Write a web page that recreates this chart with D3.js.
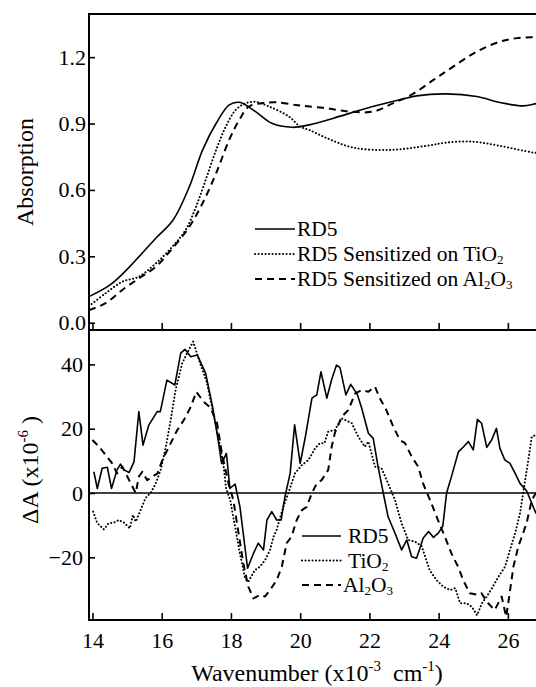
<!DOCTYPE html>
<html>
<head>
<meta charset="utf-8">
<script src="https://cdn.jsdelivr.net/npm/d3@7"></script>
<style>
  html, body { margin: 0; padding: 0; background: #fff; }
  svg { display: block; }
</style>
</head>
<body>
<svg id="chart" width="536" height="687"></svg>
<script>
// ---------------- DATA ----------------
const xTicks = [14, 16, 18, 20, 22, 24, 26];
const absTicks = [0.0, 0.3, 0.6, 0.9, 1.2];
const dATicks = [-20, 0, 20, 40];

// Top panel: absorption spectra [wavenumber x10^-3 cm^-1, absorption]
const absRD5 = [[13.9,0.118],[14.5,0.17],[14.9,0.225],[15.85,0.385],[16.33,0.464],[16.8,0.615],[17.18,0.78],[17.57,0.90],[17.95,0.984],[18.24,0.996],[18.71,0.954],[19.2,0.90],[19.77,0.883],[20.0,0.886],[20.26,0.894],[20.96,0.924],[21.92,0.969],[22.87,1.007],[23.36,1.025],[24.23,1.034],[25.1,1.022],[25.77,0.995],[26.44,0.98],[26.81,0.99],[27.0,0.995]];
const absTiO2 = [[13.9,0.075],[14.38,0.133],[14.86,0.185],[15.34,0.208],[15.83,0.268],[16.31,0.344],[16.69,0.419],[16.99,0.524],[17.27,0.645],[17.57,0.78],[17.85,0.886],[18.14,0.962],[18.43,0.992],[18.71,0.998],[19.1,0.977],[19.68,0.931],[20.0,0.886],[20.26,0.871],[20.77,0.834],[21.54,0.791],[22.59,0.781],[23.65,0.799],[24.23,0.814],[25.0,0.818],[25.77,0.799],[26.73,0.769],[27.0,0.765]];
const absAl2O3 = [[13.9,0.057],[14.38,0.088],[14.86,0.148],[15.34,0.20],[15.83,0.253],[16.31,0.336],[16.8,0.434],[17.18,0.54],[17.57,0.675],[17.95,0.826],[18.24,0.916],[18.52,0.977],[18.9,0.992],[19.3,0.996],[19.87,0.984],[20.2,0.978],[20.77,0.969],[21.44,0.954],[22.11,0.954],[22.69,0.992],[23.26,1.034],[23.85,1.097],[24.42,1.157],[25.1,1.225],[25.77,1.27],[26.26,1.286],[26.73,1.29],[27.0,1.29]];

// Bottom panel: electroabsorption ΔA (x10^-6)
const dARD5 = [[14.04,6.6],[14.14,1.4],[14.28,7.7],[14.43,8.0],[14.55,1.4],[14.71,7.2],[14.81,9.0],[14.91,7.2],[15.06,6.4],[15.2,9.7],[15.34,25.3],[15.46,14.9],[15.63,21.2],[15.87,25.3],[15.96,25.3],[16.15,35.1],[16.38,33.6],[16.55,43.5],[16.67,44.7],[16.84,42.4],[17.03,42.9],[17.27,37.2],[17.47,26.8],[17.63,16.5],[17.73,9.2],[17.87,12.3],[17.97,1.4],[18.12,2.8],[18.26,-4.3],[18.48,-23.4],[18.65,-18.8],[18.79,-15.6],[18.94,-17.7],[19.04,-8.4],[19.18,-5.8],[19.32,-8.4],[19.45,-8.4],[19.56,-1.2],[19.71,6.1],[19.84,21.2],[20.0,9.2],[20.15,17.5],[20.34,29.5],[20.48,30.5],[20.6,37.7],[20.77,29.5],[20.91,35.3],[21.05,39.8],[21.15,39.0],[21.32,30.5],[21.46,33.8],[21.65,30.7],[21.78,26.3],[21.97,18.6],[22.11,17.0],[22.25,8.2],[22.4,0],[22.54,-7.4],[22.74,-12.5],[22.93,-17.7],[23.08,-14.6],[23.22,-19.8],[23.36,-20.3],[23.46,-17.2],[23.55,-14.1],[23.71,-12],[23.85,-13.8],[23.99,-12.5],[24.12,-10.3],[24.23,0],[24.37,5.1],[24.57,12.8],[24.72,14.4],[24.86,16],[25.0,13.4],[25.12,22.9],[25.24,21.7],[25.39,14.2],[25.53,16.5],[25.67,20.1],[25.77,13.9],[25.91,10.3],[26.06,9.2],[26.21,6.1],[26.35,3.0],[26.54,0.7],[26.69,-3.2],[26.81,-6.3],[27.0,-8]];
const dATiO2 = [[14.02,-5.8],[14.14,-9.4],[14.33,-11.3],[14.47,-9.4],[14.62,-9.2],[14.76,-8.4],[14.91,-9.2],[15.08,-11],[15.17,-6.8],[15.25,-8.9],[15.39,-5.3],[15.53,-1.6],[15.68,0],[15.83,3],[15.97,7.2],[16.12,14.4],[16.26,22.7],[16.4,32],[16.59,40.3],[16.78,44.5],[16.91,47.1],[17.11,40.3],[17.3,34.6],[17.49,24.8],[17.69,14.4],[17.79,8.2],[17.86,1.5],[17.98,-2.2],[18.12,-10.5],[18.26,-18.8],[18.41,-26.6],[18.5,-27.6],[18.69,-24],[18.84,-22.9],[18.99,-20.8],[19.13,-17.7],[19.23,-13.6],[19.32,-11.5],[19.51,-4.3],[19.66,0],[19.85,6.1],[20.05,8.7],[20.24,10.3],[20.43,13.9],[20.57,15.5],[20.7,15.5],[20.81,19.1],[21.0,19.6],[21.2,23.2],[21.49,21.7],[21.68,17.5],[21.87,14.4],[21.97,16],[22.16,8.2],[22.35,7.7],[22.54,3],[22.74,-2.2],[22.93,-9.4],[23.12,-14.6],[23.31,-15.1],[23.51,-16.5],[23.74,-24],[23.94,-27.1],[24.13,-29.1],[24.33,-30.2],[24.48,-29.6],[24.62,-34.3],[24.81,-34.3],[24.96,-35.4],[25.11,-38],[25.25,-34.3],[25.39,-32.2],[25.54,-29.6],[25.73,-26],[25.92,-22.9],[26.06,-17.7],[26.21,-12.5],[26.35,-6.3],[26.44,0],[26.59,10.3],[26.69,17.5],[26.81,18],[27.0,18]];
const dAAl2O3 = [[14.0,16.5],[14.19,14.4],[14.38,11.8],[14.57,9.2],[14.71,6.1],[14.86,8.2],[15.06,4],[15.25,0],[15.34,5.1],[15.44,6.6],[15.58,4],[15.73,5.1],[15.88,6.1],[16.02,10.3],[16.21,14.4],[16.45,19.6],[16.64,22.7],[16.84,26.8],[17.0,31.5],[17.21,28.4],[17.41,26.5],[17.6,21.7],[17.74,12.3],[17.93,3],[18.07,-2.2],[18.22,-12.5],[18.36,-22],[18.5,-29.1],[18.65,-32.8],[18.84,-31.7],[18.98,-32.2],[19.13,-30.2],[19.32,-27.1],[19.47,-22.9],[19.61,-15.6],[19.75,-13.6],[19.9,-8.4],[20.05,-5.3],[20.19,-4.3],[20.34,0],[20.48,3],[20.62,4],[20.81,7.2],[20.91,14.4],[21.0,18.6],[21.2,23.7],[21.39,25.8],[21.59,31],[21.78,32],[21.97,31.5],[22.16,33.1],[22.3,29.5],[22.49,25.8],[22.69,20.6],[22.88,16.5],[23.03,15.5],[23.22,11.3],[23.41,8.2],[23.55,3],[23.79,-3.2],[23.98,-8.4],[24.18,-13.6],[24.37,-18.8],[24.56,-22.9],[24.71,-27.1],[24.9,-31.2],[25.15,-31.7],[25.24,-31.2],[25.39,-33.8],[25.53,-35.4],[25.62,-36.4],[25.82,-32.2],[25.95,-38.5],[26.01,-34.3],[26.16,-22.9],[26.3,-16.7],[26.54,-9.4],[26.69,-2.2],[26.81,0],[27.0,3]];

const topLegend = ["RD5", "RD5 Sensitized on TiO|2", "RD5 Sensitized on Al|2|O|3"];
const botLegend = ["RD5", "TiO|2", "Al|2|O|3"];

// ---------------- LAYOUT ----------------
const FONT = "Liberation Serif";
const svg = d3.select("#chart").attr("font-family", FONT);
const L = 89, R = 542.5;
const topT = 14, topB = 330, botT = 330, botB = 620;

const x = d3.scaleLinear().domain([13.9, 27]).range([L, R]);
const yTop = d3.scaleLinear().domain([-0.033, 1.395]).range([topB, topT]);
const yBot = d3.scaleLinear().domain([-39.5, 50.7]).range([botB, botT]);

const styles = [
  { dash: null, width: 1.6, cap: "butt" },
  { dash: "0.1,3.4", width: 2.0, cap: "round" },
  { dash: "7,5", width: 2.0, cap: "butt" }
];

const defs = svg.append("defs");
defs.append("clipPath").attr("id", "clipTop").append("rect")
  .attr("x", L).attr("y", topT).attr("width", R - L).attr("height", topB - topT);
defs.append("clipPath").attr("id", "clipBot").append("rect")
  .attr("x", L).attr("y", botT).attr("width", R - L).attr("height", botB - botT);

function applyStyle(sel, i) {
  sel.attr("fill", "none").attr("stroke", "#000")
    .attr("stroke-width", styles[i].width)
    .attr("stroke-dasharray", styles[i].dash)
    .attr("stroke-linecap", styles[i].cap)
    .attr("stroke-linejoin", "round");
}

// Top panel lines
const lineTop = d3.line().x(d => x(d[0])).y(d => yTop(d[1])).curve(d3.curveCatmullRom.alpha(0.5));
const gTop = svg.append("g").attr("clip-path", "url(#clipTop)");
[absRD5, absTiO2, absAl2O3].forEach((s, i) => {
  gTop.append("path").datum(s).attr("d", lineTop).call(applyStyle, i);
});

// Bottom panel lines
const lineBot = d3.line().x(d => x(d[0])).y(d => yBot(d[1]));
const gBot = svg.append("g").attr("clip-path", "url(#clipBot)");
gBot.append("line").attr("x1", L).attr("x2", R).attr("y1", yBot(0)).attr("y2", yBot(0))
  .attr("stroke", "#000").attr("stroke-width", 1.5);
[dARD5, dATiO2, dAAl2O3].forEach((s, i) => {
  gBot.append("path").datum(s).attr("d", lineBot).call(applyStyle, i);
});

// Axes
function styleAxis(g, fs) {
  g.attr("font-family", FONT).attr("font-size", fs);
  g.select(".domain").remove();
  g.selectAll(".tick line").attr("stroke", "#000").attr("stroke-width", 1.6);
  g.selectAll(".tick text").attr("font-family", FONT).attr("font-size", fs).attr("fill", "#000");
}
svg.append("g").attr("transform", `translate(${L},0)`)
  .call(d3.axisLeft(yTop).tickValues(absTicks).tickFormat(d3.format(".1f")).tickSize(-6).tickPadding(3))
  .call(g => styleAxis(g, 22));
svg.append("g").attr("transform", `translate(0,${topB})`)
  .call(d3.axisBottom(x).tickValues(xTicks).tickFormat("").tickSize(-7))
  .call(g => styleAxis(g, 22));
svg.append("g").attr("transform", `translate(${L},0)`)
  .call(d3.axisLeft(yBot).tickValues(dATicks).tickFormat(d3.format("d")).tickSize(-6).tickPadding(6))
  .call(g => styleAxis(g, 22));
svg.append("g").attr("transform", `translate(0,${botB})`)
  .call(d3.axisBottom(x).tickValues(xTicks).tickFormat(d3.format("d")).tickSize(-7).tickPadding(12))
  .call(g => styleAxis(g, 22));

// Frames
[[topT, topB], [botT, botB]].forEach(([t, b]) => {
  svg.append("rect").attr("x", L).attr("y", t).attr("width", R - L).attr("height", b - t)
    .attr("fill", "none").attr("stroke", "#000").attr("stroke-width", 2);
});

// rich text helper: parts separated by | alternate normal / sub
function richText(sel, str, fs, subFs, shift) {
  const parts = str.split("|");
  parts.forEach((p, i) => {
    const sub = i % 2 === 1;
    sel.append("tspan").text(p)
      .attr("font-size", sub ? subFs : fs)
      .attr("dy", i === 0 ? 0 : (sub ? shift : -shift));
  });
}

// Top legend
const tl = svg.append("g");
topLegend.forEach((lab, i) => {
  const yy = 229 + i * 25;
  tl.append("line").attr("x1", 255).attr("x2", 295).attr("y1", yy).attr("y2", yy).call(applyStyle, i);
  const t = tl.append("text").attr("x", 297).attr("y", yy + 7)
    .attr("font-family", FONT).attr("font-size", 21.5);
  richText(t, lab, 21.5, 13, 3);
});

// Bottom legend
const bl = svg.append("g");
botLegend.forEach((lab, i) => {
  const yy = 536 + i * 24.5;
  bl.append("line").attr("x1", 302).attr("x2", 341).attr("y1", yy).attr("y2", yy).call(applyStyle, i);
  const t = bl.append("text").attr("x", i === 2 ? 343 : 348).attr("y", yy + 7)
    .attr("font-family", FONT).attr("font-size", 21.5);
  richText(t, lab, 21.5, 13, 3);
});

// Axis titles
svg.append("text").attr("transform", "translate(33,172) rotate(-90)")
  .attr("font-family", FONT).attr("text-anchor", "middle").attr("font-size", 24).text("Absorption");

const t2 = svg.append("text").attr("transform", "translate(38,470) rotate(-90)")
  .attr("font-family", FONT).attr("text-anchor", "middle").attr("font-size", 24);
t2.append("tspan").text("\u0394A (x10");
t2.append("tspan").text("-6").attr("font-size", 15).attr("dy", -10);
t2.append("tspan").text(" )").attr("dy", 10);

const t3 = svg.append("text").attr("x", 317).attr("y", 681)
  .attr("font-family", FONT).attr("text-anchor", "middle").attr("font-size", 24);
t3.append("tspan").text("Wavenumber (x10");
t3.append("tspan").text("-3").attr("font-size", 15).attr("dy", -10);
t3.append("tspan").text("\u00a0\u00a0cm").attr("dy", 10);
t3.append("tspan").text("-1").attr("font-size", 15).attr("dy", -10);
t3.append("tspan").text(")").attr("dy", 10);
</script>
</body>
</html>
